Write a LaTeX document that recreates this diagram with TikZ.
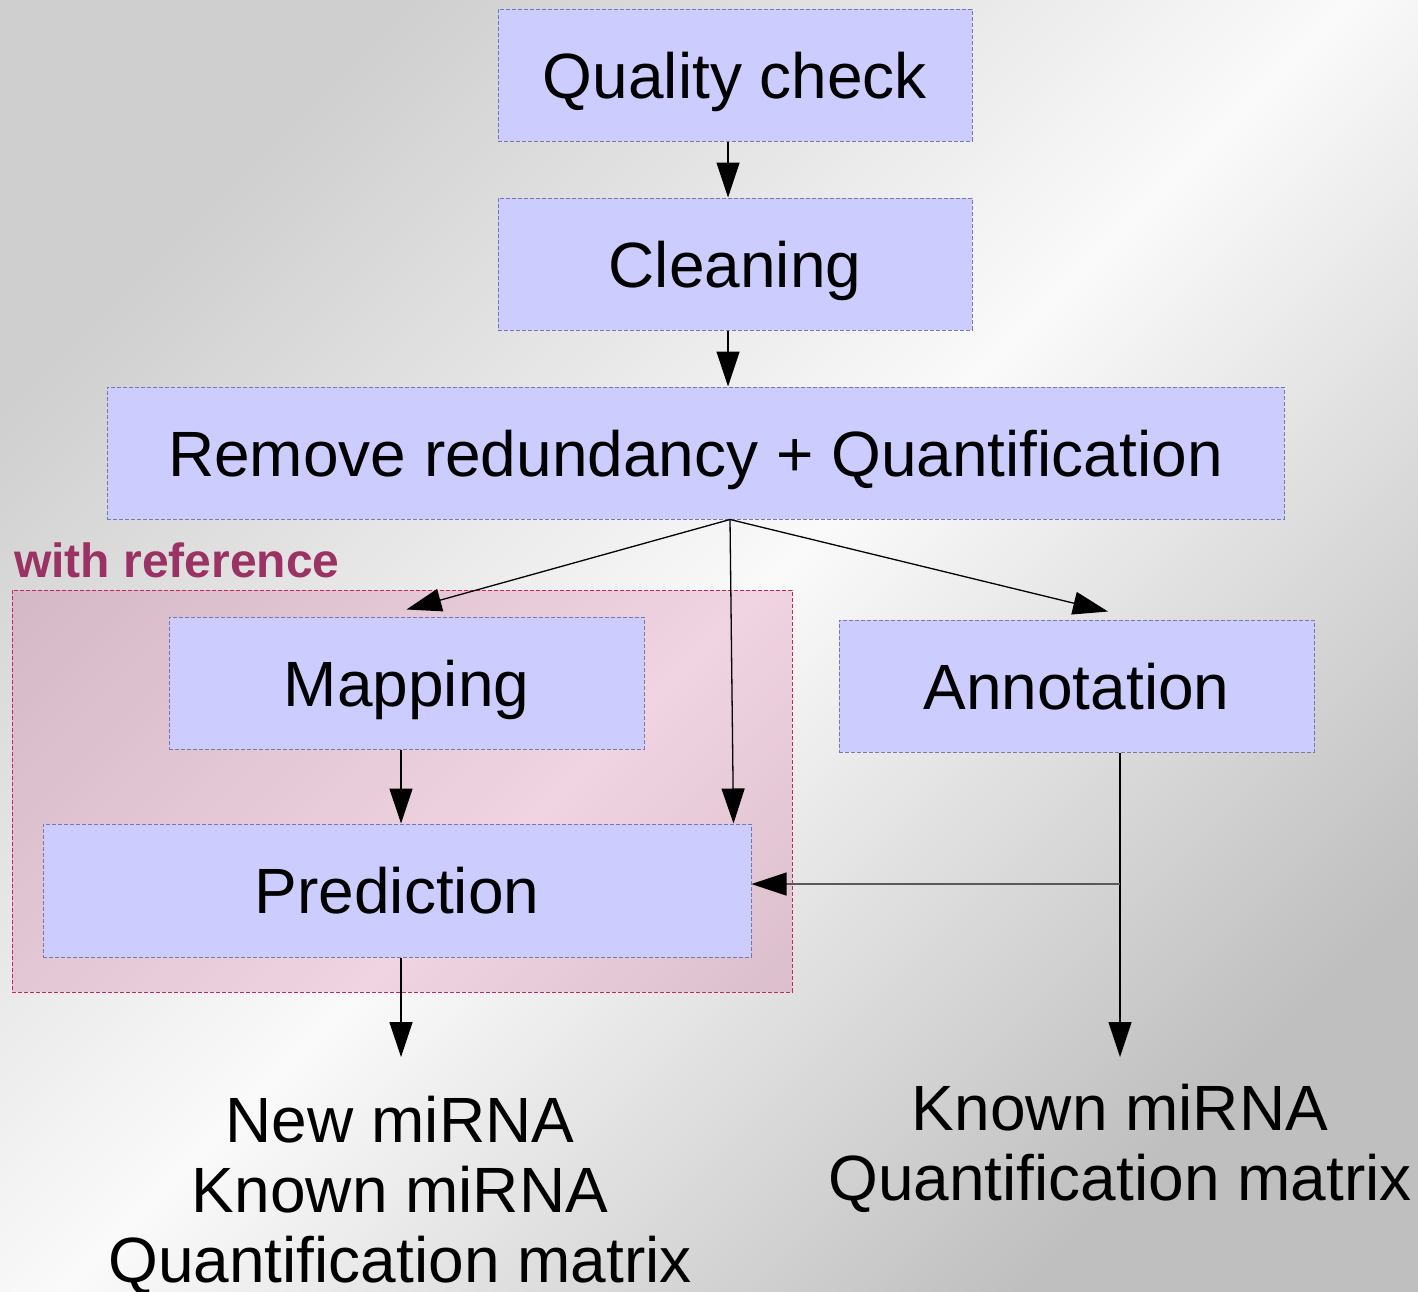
\documentclass[tikz,border=0pt]{standalone}
\usepackage{fontspec}
\setmainfont{Liberation Sans}
\usetikzlibrary{arrows.meta,calc}
\definecolor{boxfill}{RGB}{204,204,255}
\definecolor{boxline}{RGB}{120,120,170}
\definecolor{grpfill}{RGB}{200,60,125}
\definecolor{grpline}{RGB}{190,40,100}
\definecolor{grplabel}{RGB}{155,50,100}
\tikzset{
  stepbox/.style={draw=boxline, fill=boxfill, dash pattern=on 4pt off 2pt, line width=1pt,
    minimum width=#1, minimum height=132pt, inner sep=0pt, text height=46pt, text depth=0pt,
    font=\fontsize{64}{70}\selectfont},
  stepbox/.default=474pt,
  arr/.style={draw=black, line width=1.3pt, -{Triangle[length=35pt,width=23pt,color=black]}},
  outtext/.style={align=center, inner sep=0pt, font=\fontsize{64}{70}\selectfont}
}
\begin{document}
\begin{tikzpicture}[x=1pt,y=-1pt]
\useasboundingbox (0,0) rectangle (1418,1291);
% background
\shade[left color=gray!38, right color=gray!50, middle color=gray!4, shading angle=45]
  (0,0) rectangle (1418,1291);

% group
\node[draw=grpline, fill=grpfill, fill opacity=0.2, draw opacity=1, dash pattern=on 4pt off 2pt, line width=1pt,
      minimum width=780pt, minimum height=402pt, inner sep=0pt] (grp) at (402,791) {};
\node[anchor=base west, inner sep=0pt, text=grplabel, font=\fontsize{48}{54}\selectfont\bfseries] (lbl) at (14,577) {with reference};

% boxes
\node[stepbox] (q) at (735,75) {Quality check};
\node[stepbox] (c) at (735,264) {Cleaning};
\node[stepbox=1177pt] (r) at (695.5,453) {Remove redundancy + Quantification};
\node[stepbox=475pt] (m) at (406.5,683) {Mapping};
\node[stepbox=475pt] (a) at (1076.5,686) {Annotation};
\node[stepbox=708pt, minimum height=133pt] (p) at (397,890.5) {Prediction};

% outputs
\node[outtext, anchor=north] (o1) at (400,1096) {New miRNA\\Known miRNA\\Quantification matrix};
\node[outtext, anchor=north] (o2) at (1120,1084) {Known miRNA\\Quantification matrix};

\coordinate (br) at (1120,884);
\coordinate (t1) at (401,1057);
\coordinate (t2) at (1120,1057);

% connectors
\draw[arr] ([xshift=-7pt]q.south) -- ([xshift=-7pt]c.north);
\draw[arr] ([xshift=-7pt]c.south) -- ([xshift=-7pt]c.south |- r.north);
\draw[arr] ([xshift=34.5pt]r.south) -- ([yshift=7pt]m.north);
\draw[arr] ([xshift=34.5pt]r.south) -- ([xshift=-18pt]p.north east);
\draw[arr] ([xshift=34.5pt]r.south) -- ([xshift=31.5pt,yshift=8pt]a.north);
\draw[arr] ([xshift=-5.5pt]m.south) -- ([xshift=4pt]p.north);
\draw[arr] ([xshift=4pt]p.south) -- (t1);
\draw[arr] ([xshift=43.5pt]a.south) -- (t2);
\draw[arr, draw=black!65] (br) -- (p.east |- br);
\end{tikzpicture}
\end{document}
